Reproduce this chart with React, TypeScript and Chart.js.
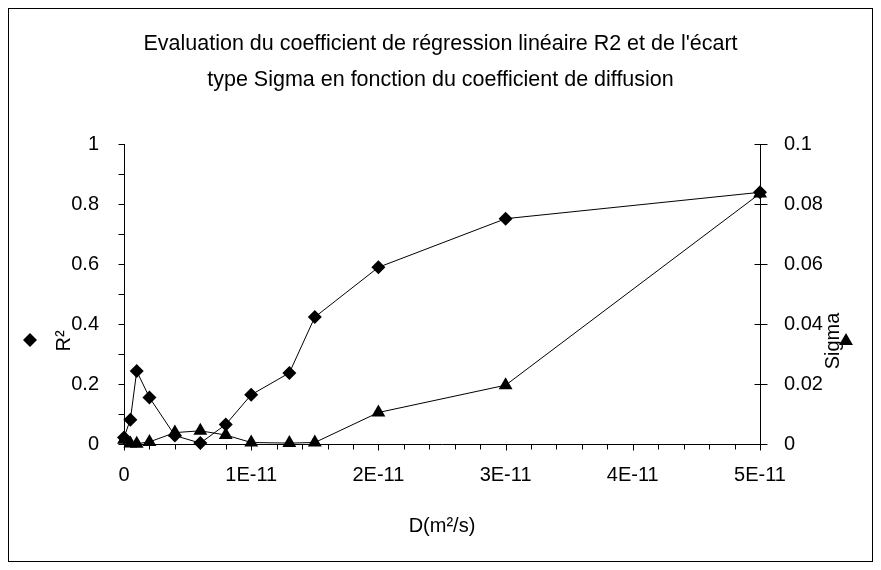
import React, { useEffect, useRef } from 'react';
import { Chart, registerables } from 'chart.js';

Chart.register(...registerables);

const titleLines = [
  "Evaluation du coefficient de régression linéaire R2 et de l'écart",
  'type Sigma en fonction du coefficient de diffusion',
];
const xAxisTitle = 'D(m²/s)';
const r2AxisTitle = 'R²';
const sigmaAxisTitle = 'Sigma';

const dValues = [0, 5e-13, 1e-12, 2e-12, 4e-12, 6e-12, 8e-12, 1e-11, 1.3e-11, 1.5e-11, 2e-11, 3e-11, 5e-11];
const r2Values = [0.022, 0.081, 0.243, 0.155, 0.028, 0.003, 0.065, 0.164, 0.237, 0.423, 0.589, 0.751, 0.839];
const sigmaValues = [0.0014, 0.0002, 0.0001, 0.0007, 0.0038, 0.0044, 0.003, 0.0005, 0.0003, 0.0005, 0.0105, 0.0196, 0.0835];

const xTickValues = [0, 1e-11, 2e-11, 3e-11, 4e-11, 5e-11];
const xTickLabels = ['0', '1E-11', '2E-11', '3E-11', '4E-11', '5E-11'];
const r2TickValues = [0, 0.2, 0.4, 0.6, 0.8, 1];
const r2TickLabels = ['0', '0.2', '0.4', '0.6', '0.8', '1'];
const sigmaTickValues = [0, 0.02, 0.04, 0.06, 0.08, 0.1];
const sigmaTickLabels = ['0', '0.02', '0.04', '0.06', '0.08', '0.1'];

const FONT = "'Liberation Sans', Arial, sans-serif";
const TICK_SIZE = 20;

const decor = {
  id: 'decor',
  beforeDatasetsDraw(chart: any) {
    const ctx = chart.ctx;
    const xs = chart.scales.x;
    const ys = chart.scales.y;
    const y2 = chart.scales.y2;
    const a = chart.chartArea;
    const L = Math.round(a.left) + 0.5;
    const R = Math.round(a.right) + 0.5;
    const B = Math.round(a.bottom) + 0.5;
    const T = Math.round(a.top);
    ctx.save();
    ctx.strokeStyle = '#000';
    ctx.lineWidth = 1;
    ctx.strokeRect(8.5, 8.5, chart.width - 17, chart.height - 17);
    ctx.beginPath();
    ctx.moveTo(L, T); ctx.lineTo(L, B);
    ctx.moveTo(R, T); ctx.lineTo(R, B);
    ctx.moveTo(L, B); ctx.lineTo(R, B);
    const minorStepX = 2e-12;
    for (let i = 0; i <= 25; i++) {
      const px = Math.round(xs.getPixelForValue(i * minorStepX)) + 0.5;
      const len = i % 5 === 0 ? 6 : 5;
      ctx.moveTo(px, B); ctx.lineTo(px, B + len);
    }
    for (let i = 0; i <= 10; i++) {
      const py = Math.round(ys.getPixelForValue(i * 0.1)) + 0.5;
      ctx.moveTo(L - 6, py); ctx.lineTo(L, py);
    }
    for (const v of sigmaTickValues) {
      const py = Math.round(y2.getPixelForValue(v)) + 0.5;
      ctx.moveTo(R - 6, py); ctx.lineTo(R + 7, py);
    }
    ctx.stroke();
    ctx.restore();
  },
  afterDraw(chart: any) {
    const ctx = chart.ctx;
    const a = chart.chartArea;
    ctx.save();
    ctx.fillStyle = '#000';
    ctx.font = `${TICK_SIZE}px ${FONT}`;
    ctx.textAlign = 'center';
    ctx.textBaseline = 'middle';
    ctx.fillText(xAxisTitle, (a.left + a.right) / 2, 526);
    ctx.save();
    ctx.translate(64, 341);
    ctx.rotate(-Math.PI / 2);
    ctx.fillText(r2AxisTitle, 0, 0);
    ctx.restore();
    ctx.save();
    ctx.translate(833, 341);
    ctx.rotate(-Math.PI / 2);
    ctx.fillText(sigmaAxisTitle, 0, 0);
    ctx.restore();
    const dx = 30, dy = 340, r = 7;
    ctx.beginPath();
    ctx.moveTo(dx - r, dy); ctx.lineTo(dx, dy - r); ctx.lineTo(dx + r, dy); ctx.lineTo(dx, dy + r);
    ctx.closePath();
    ctx.fill();
    const tx = 846, ty = 341, tr = 8;
    ctx.beginPath();
    for (let k = 0; k < 3; k++) {
      const ang = (k * 2 * Math.PI) / 3;
      const px = tx + Math.sin(ang) * tr;
      const py = ty - Math.cos(ang) * tr;
      if (k === 0) ctx.moveTo(px, py); else ctx.lineTo(px, py);
    }
    ctx.closePath();
    ctx.fill();
    ctx.restore();
  },
};

export default function App() {
  const ref = useRef<HTMLCanvasElement | null>(null);
  useEffect(() => {
    if (!ref.current) return;
    const tickFont = { family: FONT, size: TICK_SIZE };
    const chart = new Chart(ref.current, {
      type: 'line',
      data: {
        datasets: [
          {
            label: 'R2',
            data: dValues.map((d, i) => ({ x: d, y: r2Values[i] })),
            yAxisID: 'y',
            borderColor: '#000',
            borderWidth: 1,
            backgroundColor: '#000',
            pointStyle: 'rectRot',
            pointRadius: 7,
            pointBorderWidth: 0,
            pointBackgroundColor: '#000',
            tension: 0,
            clip: false as any,
          },
          {
            label: 'Sigma',
            data: dValues.map((d, i) => ({ x: d, y: sigmaValues[i] })),
            yAxisID: 'y2',
            borderColor: '#000',
            borderWidth: 1,
            backgroundColor: '#000',
            pointStyle: 'triangle',
            pointRadius: 8,
            pointBorderWidth: 0,
            pointBackgroundColor: '#000',
            tension: 0,
            clip: false as any,
          },
        ],
      },
      options: {
        animation: false,
        responsive: true,
        maintainAspectRatio: false,
        devicePixelRatio: 1,
        layout: { padding: 0 },
        plugins: {
          legend: { display: false },
          tooltip: { enabled: false },
          title: {
            display: true,
            text: titleLines,
            color: '#000',
            font: { family: FONT, size: 21.5, weight: 'normal', lineHeight: 36 / 21.5 },
            padding: { top: 26, bottom: 46 },
          },
        },
        scales: {
          x: {
            type: 'linear',
            position: 'bottom',
            min: 0,
            max: 5e-11,
            afterBuildTicks: (s: any) => { s.ticks = xTickValues.map((v) => ({ value: v })); },
            afterFit: (s: any) => { s.height = 126; },
            grid: { display: false },
            border: { display: false },
            ticks: {
              color: '#000',
              font: tickFont,
              padding: 11,
              maxRotation: 0,
              autoSkip: false,
              callback: (_v: any, i: number) => xTickLabels[i],
            },
          },
          y: {
            type: 'linear',
            position: 'left',
            min: 0,
            max: 1,
            afterBuildTicks: (s: any) => { s.ticks = r2TickValues.map((v) => ({ value: v })); },
            afterFit: (s: any) => { s.width = 124; },
            grid: { display: false },
            border: { display: false },
            ticks: {
              color: '#000',
              font: tickFont,
              padding: 17,
              autoSkip: false,
              callback: (_v: any, i: number) => r2TickLabels[i],
            },
          },
          y2: {
            type: 'linear',
            position: 'right',
            min: 0,
            max: 0.1,
            afterBuildTicks: (s: any) => { s.ticks = sigmaTickValues.map((v) => ({ value: v })); },
            afterFit: (s: any) => { s.width = 121; },
            grid: { display: false },
            border: { display: false },
            ticks: {
              color: '#000',
              font: tickFont,
              padding: 16,
              autoSkip: false,
              callback: (_v: any, i: number) => sigmaTickLabels[i],
            },
          },
        },
      } as any,
      plugins: [decor],
    });
    return () => chart.destroy();
  }, []);
  return (
    <div style={{ position: 'fixed', left: 0, top: 0, width: 881, height: 570, background: '#fff' }}>
      <canvas ref={ref} />
    </div>
  );
}
